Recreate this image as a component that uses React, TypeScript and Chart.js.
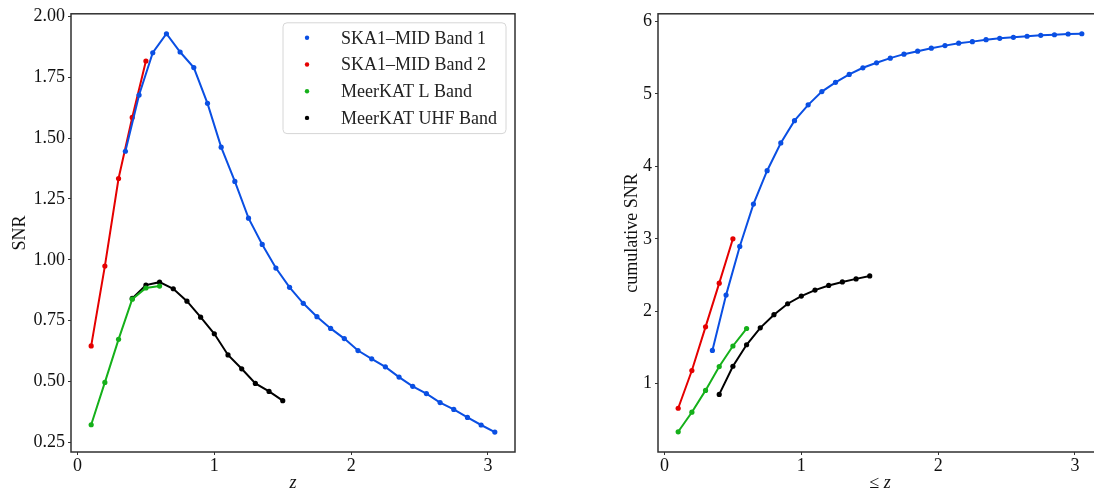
import React, { useEffect, useRef } from "react";
import { Chart, registerables } from "chart.js";
Chart.register(...registerables);

// ---------- data ----------
const seriesLabels = ["SKA1–MID Band 1", "SKA1–MID Band 2", "MeerKAT L Band", "MeerKAT UHF Band"];
const seriesColors = ["#0a4fe3", "#e50000", "#15b01a", "#000000"];

const zBand1 = [0.35, 0.45, 0.55, 0.65, 0.75, 0.85, 0.95, 1.05, 1.15, 1.25, 1.35, 1.45, 1.55, 1.65, 1.75, 1.85, 1.95, 2.05, 2.15, 2.25, 2.35, 2.45, 2.55, 2.65, 2.75, 2.85, 2.95, 3.05];
const snrBand1 = [1.446, 1.677, 1.851, 1.929, 1.854, 1.79, 1.643, 1.463, 1.322, 1.171, 1.063, 0.966, 0.887, 0.821, 0.766, 0.718, 0.676, 0.627, 0.593, 0.56, 0.518, 0.48, 0.45, 0.413, 0.385, 0.352, 0.321, 0.292];
const cumBand1 = [1.46, 2.223, 2.895, 3.479, 3.94, 4.323, 4.63, 4.849, 5.032, 5.159, 5.268, 5.36, 5.429, 5.493, 5.548, 5.589, 5.63, 5.666, 5.699, 5.721, 5.748, 5.767, 5.781, 5.795, 5.808, 5.816, 5.826, 5.83];

const zBand2 = [0.1, 0.2, 0.3, 0.4, 0.5];
const snrBand2 = [0.646, 0.974, 1.334, 1.585, 1.817];
const cumBand2 = [0.662, 1.182, 1.785, 2.388, 3.0];

const zMeerL = [0.1, 0.2, 0.3, 0.4, 0.5, 0.6];
const snrMeerL = [0.322, 0.496, 0.673, 0.838, 0.884, 0.892];
const cumMeerL = [0.337, 0.607, 0.908, 1.237, 1.521, 1.762];

const zMeerUHF = [0.4, 0.5, 0.6, 0.7, 0.8, 0.9, 1.0, 1.1, 1.2, 1.3, 1.4, 1.5];
const snrMeerUHF = [0.841, 0.896, 0.908, 0.881, 0.83, 0.764, 0.696, 0.609, 0.552, 0.492, 0.459, 0.421];
const cumMeerUHF = [0.853, 1.241, 1.538, 1.771, 1.953, 2.104, 2.21, 2.292, 2.356, 2.405, 2.447, 2.488];

const xTicks = [0, 1, 2, 3];
const leftYTicks = [0.25, 0.5, 0.75, 1.0, 1.25, 1.5, 1.75, 2.0];
const rightYTicks = [1, 2, 3, 4, 5, 6];

// ---------- styling ----------
const FONT = "'Liberation Serif', 'DejaVu Serif', serif";
const TXT = "#111111";

const framePlugin = {
  id: "frame",
  afterDatasetsDraw(chart: any) {
    const { ctx, chartArea } = chart;
    ctx.save();
    ctx.strokeStyle = "#303030";
    ctx.lineWidth = 1.5;
    ctx.strokeRect(chartArea.left, chartArea.top, chartArea.right - chartArea.left, chartArea.bottom - chartArea.top);
    ctx.restore();
  },
};

const boxLegendPlugin = {
  id: "boxLegend",
  afterDraw(chart: any, _args: any, opts: any) {
    if (!opts || !opts.show) return;
    const { ctx, chartArea } = chart;
    ctx.save();
    ctx.font = `18px ${FONT}`;
    const items = chart.data.datasets.map((d: any) => ({ label: d.label, color: d.borderColor }));
    const maxW = Math.max(...items.map((it: any) => ctx.measureText(it.label).width));
    const textOff = 58;
    const w = textOff + maxW + 9;
    const rowH = 26.7;
    const h = items.length * rowH + 4;
    const right = chartArea.right - 9;
    const left = right - w;
    const top = chartArea.top + 9;
    ctx.beginPath();
    ctx.roundRect(left, top, w, h, 4);
    ctx.fillStyle = "rgba(255,255,255,0.85)";
    ctx.fill();
    ctx.strokeStyle = "#d6d6d6";
    ctx.lineWidth = 1;
    ctx.stroke();
    items.forEach((it: any, i: number) => {
      const cy = top + 15 + i * rowH;
      ctx.beginPath();
      ctx.arc(left + 24, cy, 2.2, 0, Math.PI * 2);
      ctx.fillStyle = it.color;
      ctx.fill();
      ctx.fillStyle = "#222";
      ctx.textBaseline = "middle";
      ctx.textAlign = "left";
      ctx.fillText(it.label, left + textOff, cy + 1);
    });
    ctx.restore();
  },
};

function makeDatasets(groups: { z: number[]; v: number[] }[]) {
  return groups.map((g, i) => ({
    label: seriesLabels[i],
    data: g.z.map((z, k) => ({ x: z, y: g.v[k] })),
    borderColor: seriesColors[i],
    backgroundColor: seriesColors[i],
    pointBackgroundColor: seriesColors[i],
    pointBorderWidth: 0,
    pointRadius: 2.6,
    borderWidth: 2,
    showLine: true,
    tension: 0,
  }));
}

function axisCommon() {
  return {
    grid: { display: true, drawOnChartArea: false, drawTicks: true, tickLength: 3, color: "#333" },
    border: { display: false },
  };
}

function buildConfig(opts: {
  groups: { z: number[]; v: number[] }[];
  yMin: number;
  yMax: number;
  yTicks: number[];
  yFmt: (v: number) => string;
  yTitle: string;
  yTitlePad: number;
  yWidth: number;
  xTitle: string;
  legend: boolean;
  padRight: number;
}) {
  return {
    type: "scatter" as const,
    data: { datasets: makeDatasets(opts.groups) },
    options: {
      animation: false,
      responsive: false,
      maintainAspectRatio: false,
      devicePixelRatio: 1,
      layout: { padding: { left: 0, top: 12, right: opts.padRight, bottom: 0 } },
      plugins: {
        legend: { display: false },
        tooltip: { enabled: false },
        boxLegend: { show: opts.legend },
      },
      scales: {
        x: {
          type: "linear",
          min: -0.0475,
          max: 3.1975,
          ...axisCommon(),
          afterBuildTicks: (s: any) => {
            s.ticks = xTicks.map((v) => ({ value: v }));
          },
          afterFit: (s: any) => {
            s.height = 43;
          },
          ticks: {
            font: { family: FONT, size: 18 },
            color: TXT,
            padding: 0,
            maxRotation: 0,
            callback: (v: any) => String(v),
          },
          title: {
            display: true,
            text: opts.xTitle,
            color: TXT,
            font: { family: FONT, size: 18, style: "italic" },
            padding: { top: 0, bottom: 1 },
          },
        },
        y: {
          type: "linear",
          min: opts.yMin,
          max: opts.yMax,
          ...axisCommon(),
          afterBuildTicks: (s: any) => {
            s.ticks = opts.yTicks.map((v) => ({ value: v }));
          },
          afterFit: (s: any) => {
            s.width = opts.yWidth;
          },
          ticks: {
            font: { family: FONT, size: 18 },
            color: TXT,
            padding: 3,
            callback: (v: any) => opts.yFmt(Number(v)),
          },
          title: {
            display: true,
            text: opts.yTitle,
            color: TXT,
            font: { family: FONT, size: 18 },
            padding: { top: opts.yTitlePad, bottom: 0 },
          },
        },
      },
    },
    plugins: [framePlugin, boxLegendPlugin],
  };
}

export default function App() {
  const leftRef = useRef<HTMLCanvasElement | null>(null);
  const rightRef = useRef<HTMLCanvasElement | null>(null);

  useEffect(() => {
    const left = new Chart(
      leftRef.current as HTMLCanvasElement,
      buildConfig({
        groups: [
          { z: zBand1, v: snrBand1 },
          { z: zBand2, v: snrBand2 },
          { z: zMeerL, v: snrMeerL },
          { z: zMeerUHF, v: snrMeerUHF },
        ],
        yMin: 0.21,
        yMax: 2.011,
        yTicks: leftYTicks,
        yFmt: (v) => v.toFixed(2),
        yTitle: "SNR",
        yTitlePad: 9,
        yWidth: 71,
        xTitle: "z",
        legend: true,
        padRight: 547 - 515,
      }) as any
    );
    const right = new Chart(
      rightRef.current as HTMLCanvasElement,
      buildConfig({
        groups: [
          { z: zBand1, v: cumBand1 },
          { z: zBand2, v: cumBand2 },
          { z: zMeerL, v: cumMeerL },
          { z: zMeerUHF, v: cumMeerUHF },
        ],
        yMin: 0.058,
        yMax: 6.105,
        yTicks: rightYTicks,
        yFmt: (v) => String(v),
        yTitle: "cumulative SNR",
        yTitlePad: 74,
        yWidth: 111,
        xTitle: "≤ z",
        legend: false,
        padRight: 8,
      }) as any
    );
    return () => {
      left.destroy();
      right.destroy();
    };
  }, []);

  return (
    <div
      style={{
        position: "absolute",
        left: 0,
        top: 0,
        width: 1094,
        height: 495,
        overflow: "hidden",
        background: "#fff",
      }}
    >
      <canvas
        ref={leftRef}
        width={547}
        height={495}
        style={{ position: "absolute", left: 0, top: 0, display: "block" }}
      />
      <canvas
        ref={rightRef}
        width={563}
        height={495}
        style={{ position: "absolute", left: 547, top: 0, display: "block" }}
      />
    </div>
  );
}
